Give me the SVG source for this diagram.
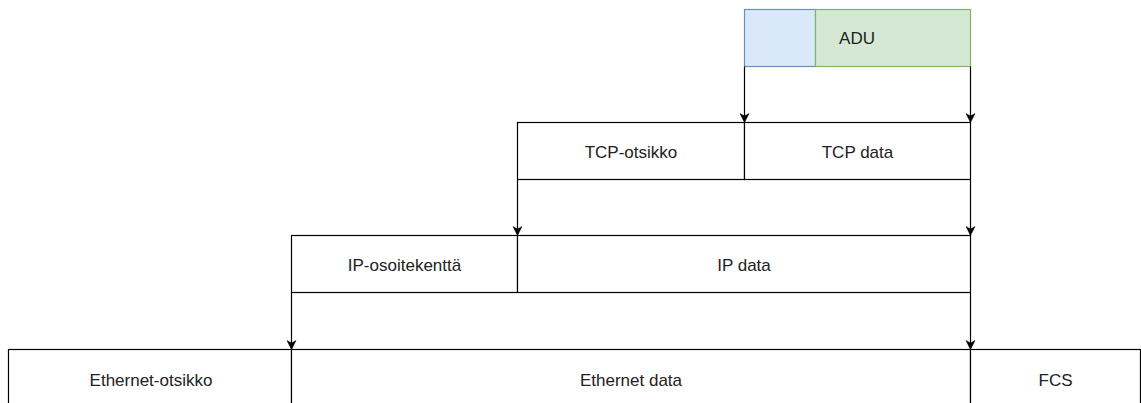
<svg xmlns="http://www.w3.org/2000/svg" width="1141" height="403" viewBox="0 0 1141 403">
  <style>
    .box { fill: #ffffff; stroke: #000000; stroke-width: 1.2; }
    .hdr { fill: #dae8fc; stroke: #6c8ebf; stroke-width: 1.2; }
    .adu { fill: #d5e8d4; stroke: #82b366; stroke-width: 1.2; }
    .lbl { font-family: "Liberation Sans", Arial, Helvetica, sans-serif; font-size: 17px; fill: #222222; text-anchor: middle; }
    .edge { fill: none; stroke: #000000; stroke-width: 1.2; }
  </style>
  <defs>
    <marker id="arrow" markerUnits="userSpaceOnUse" markerWidth="12" markerHeight="12" viewBox="-10 -6 12 12" refX="0" refY="0" orient="auto">
      <path d="M0,0 L-9,-4.5 L-6.5,0 L-9,4.5 Z" fill="#000000" stroke="#000000" stroke-width="0.5"/>
    </marker>
  </defs>
  <rect width="1141" height="403" fill="#ffffff"/>

  <!-- application layer -->
  <g id="app-header">
    <rect class="hdr" x="744.5" y="9.5" width="71" height="57"/>
  </g>
  <g id="adu">
    <rect class="adu" x="815.5" y="9.5" width="155" height="57"/>
    <text class="lbl" x="857" y="44">ADU</text>
  </g>

  <!-- transport layer -->
  <g id="tcp-header">
    <rect class="box" x="517.5" y="122.5" width="227" height="57"/>
    <text class="lbl" x="631" y="157.5">TCP-otsikko</text>
  </g>
  <g id="tcp-data">
    <rect class="box" x="744.5" y="122.5" width="226" height="57"/>
    <text class="lbl" x="857.5" y="157.5">TCP data</text>
  </g>

  <!-- network layer -->
  <g id="ip-header">
    <rect class="box" x="291.5" y="235.5" width="226" height="57"/>
    <text class="lbl" x="404.5" y="271">IP-osoitekenttä</text>
  </g>
  <g id="ip-data">
    <rect class="box" x="517.5" y="235.5" width="453" height="57"/>
    <text class="lbl" x="744" y="271">IP data</text>
  </g>

  <!-- link layer -->
  <g id="eth-header">
    <rect class="box" x="8.5" y="349.5" width="283" height="57"/>
    <text class="lbl" x="151" y="385.5">Ethernet-otsikko</text>
  </g>
  <g id="eth-data">
    <rect class="box" x="291.5" y="349.5" width="679" height="57"/>
    <text class="lbl" x="631" y="385.5">Ethernet data</text>
  </g>
  <g id="fcs">
    <rect class="box" x="970.5" y="349.5" width="170" height="57"/>
    <text class="lbl" x="1055.5" y="385.5">FCS</text>
  </g>

  <!-- encapsulation arrows -->
  <g id="connectors">
    <path class="edge" d="M744.5,66.5 L744.5,122.5" marker-end="url(#arrow)"/>
    <path class="edge" d="M970.5,66.5 L970.5,122.5" marker-end="url(#arrow)"/>
    <path class="edge" d="M517.5,179.5 L517.5,235.5" marker-end="url(#arrow)"/>
    <path class="edge" d="M970.5,179.5 L970.5,235.5" marker-end="url(#arrow)"/>
    <path class="edge" d="M291.5,292.5 L291.5,349.5" marker-end="url(#arrow)"/>
    <path class="edge" d="M970.5,292.5 L970.5,349.5" marker-end="url(#arrow)"/>
  </g>
</svg>
